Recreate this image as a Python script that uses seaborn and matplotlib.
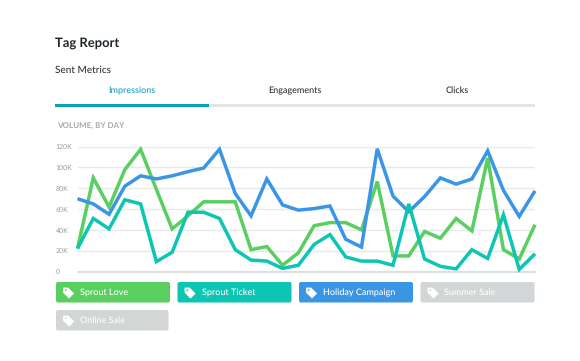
import numpy as np
import pandas as pd
import matplotlib
matplotlib.use("Agg")
import matplotlib.pyplot as plt
from matplotlib.patches import FancyBboxPatch, Polygon, Rectangle, Circle
import seaborn as sns

days = list(range(30))
sprout_love = [22, 90, 62, 98, 117.5, 79, 41, 53.5, 67, 67, 67, 21, 24, 6, 18,
               44, 47, 47, 40, 86.5, 15, 15, 38.5, 32, 51, 39, 109, 21, 12, 45]
sprout_ticket = [22, 51, 41, 69, 65, 9.5, 18.5, 57, 57, 51, 21, 11, 10, 3, 6,
                 26, 35.5, 14, 10, 10, 6, 65, 12, 5, 2.5, 21, 12.5, 54.5, 2, 17]
holiday_campaign = [70, 65, 55, 82, 92, 89, 92, 96, 99.5, 117.5, 75, 53.5, 89, 64, 59,
                    60.5, 63, 31, 23.5, 118, 72.5, 57.5, 72, 90, 84, 89, 116, 78, 53, 77.5]
y_ticks = [0, 20, 40, 60, 80, 100, 120]
y_labels = ["0", "20K", "40K", "60K", "80K", "100K", "120K"]
tabs = ["Impressions", "Engagements", "Clicks"]
tags = ["Sprout Love", "Sprout Ticket", "Holiday Campaign", "Summer Sale", "Online Sale"]

GREEN, TEAL, BLUE, GREY = "#58cf5f", "#0cc5b2", "#3a96e4", "#d3d6d6"
tag_colors = [GREEN, TEAL, BLUE, GREY, GREY]

sns.set_theme(style="white")
plt.rcParams["font.family"] = ["Lato", "DejaVu Sans"]
plt.rcParams["text.hinting"] = "no_hinting"
plt.rcParams["text.hinting_factor"] = 1

W, H = 580, 361
fig = plt.figure(figsize=(W / 100, H / 100), dpi=100, facecolor="white")

# page furniture, in pixel coordinates
bg = fig.add_axes([0, 0, 1, 1])
bg.set_xlim(0, W)
bg.set_ylim(H, 0)
bg.axis("off")

bg.text(55, 43.5, "Tag Report", fontsize=9.2, fontweight="bold", color="#1f2526", va="center")
bg.text(55, 70, "Sent Metrics", fontsize=7, fontweight="medium", color="#2e3436", va="center")
for label, cx, col in zip(tabs, [132, 294.5, 457], ["#1a9fb8", "#2a2f30", "#2a2f30"]):
    bg.text(cx, 90.5, label, fontsize=6.4, color=col, ha="center", va="center",
            fontweight="medium")
bg.add_patch(Rectangle((55, 103.5), 480, 3, color="#e3e5e5", lw=0))
bg.add_patch(Rectangle((55, 103.5), 153.5, 3, color="#0a9fb8", lw=0))
bg.text(57.5, 125.5, "VOLUME, BY DAY", fontsize=6, color="#a5aaaa", va="center",
        fontweight="bold")

chip_boxes = [(56, 282, 114, 20.5), (177.5, 282, 114, 20.5), (299, 282, 114, 20.5),
              (420.5, 282, 114, 20.5), (56, 310, 112.5, 20.5)]
for name, col, (x, y, w, h) in zip(tags, tag_colors, chip_boxes):
    bg.add_patch(FancyBboxPatch((x + 1.5, y + 1.5), w - 3, h - 3,
                                boxstyle="round,pad=1.5,rounding_size=2", fc=col, ec="none"))
    ix, iy = x + 7.5, y + 6
    bg.add_patch(Polygon([(ix, iy), (ix + 4.5, iy), (ix + 10, iy + 5.5),
                          (ix + 5.5, iy + 10), (ix, iy + 4.5)], closed=True, fc="white", ec="white",
                         lw=0.6, joinstyle="round"))
    bg.add_patch(Circle((ix + 2.2, iy + 2.2), 0.9, fc=col, ec="none"))
    bg.text(x + 24, y + h / 2 + 0.2, name, fontsize=6.3, color="white", va="center",
            fontweight="medium")

# chart
ax = fig.add_axes([77.5 / W, 1 - 271.5 / H, (535 - 77.5) / W, (271.5 - 146.7) / H])
ax.patch.set_alpha(0)
df = pd.DataFrame({"day": days, "Sprout Love": sprout_love,
                   "Holiday Campaign": holiday_campaign, "Sprout Ticket": sprout_ticket})
long = df.melt("day", var_name="tag", value_name="volume")
sns.lineplot(data=long, x="day", y="volume", hue="tag",
             palette={"Sprout Love": GREEN, "Holiday Campaign": BLUE, "Sprout Ticket": TEAL},
             lw=2.5, ax=ax, legend=False, clip_on=False, zorder=3,
             solid_joinstyle="miter", solid_capstyle="butt")
ax.set_xlim(0, 29)
ax.set_ylim(0, 120)
ax.set_xlabel("")
ax.set_ylabel("")
ax.set_xticks([])
ax.set_yticks(y_ticks)
ax.set_yticklabels(y_labels, fontsize=5, color="#9a9f9f", ha="left")
ax.tick_params(axis="y", length=0, pad=15.6)
ax.grid(axis="y", color="#e8eaea", lw=1)
ax.set_axisbelow(True)
for s in ["top", "left", "right"]:
    ax.spines[s].set_visible(False)
ax.spines["bottom"].set_color("#d8dada")
ax.spines["bottom"].set_linewidth(1.2)

fig.savefig("out.png", dpi=100)
